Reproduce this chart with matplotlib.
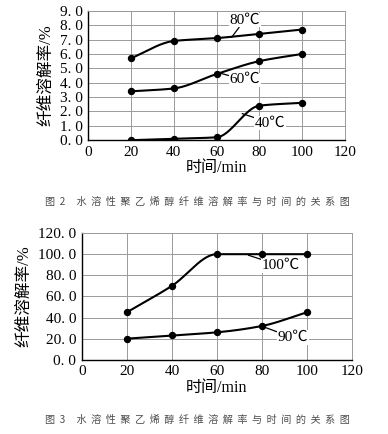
"""Dissolution rate of water-soluble PVA fibre vs time (fig 2 and fig 3)."""

import matplotlib
matplotlib.use("Agg")
import matplotlib.pyplot as plt
import numpy as np

plt.rcParams["font.family"] = ["Liberation Serif", "Noto Sans CJK SC"]

TIME = [20, 40, 60, 80, 100]

# fig 2
RATE_80 = [5.7, 6.9, 7.1, 7.4, 7.7]
RATE_60 = [3.4, 3.6, 4.6, 5.5, 6.0]
RATE_40 = [0.0, 0.1, 0.2, 2.4, 2.6]

# fig 3
RATE_100 = [45.0, 70.0, 100.0, 100.0, 100.0]
RATE_90 = [20.0, 23.0, 26.0, 32.0, 45.0]

X_TICKS = [0, 20, 40, 60, 80, 100, 120]
Y_TICKS_2 = [0, 1, 2, 3, 4, 5, 6, 7, 8, 9]
Y_TICKS_3 = [0, 20, 40, 60, 80, 100, 120]

CAPTION = "水溶性聚乙烯醇纤维溶解率与时间的关系图"


def caption(num):
    return f"图  {num}     " + "  ".join(CAPTION)


def smooth(x, y, n=200):
    """monotone cubic (pchip) through the points, only for drawing the curve"""
    x = np.asarray(x, float)
    y = np.asarray(y, float)
    h = np.diff(x)
    d = np.diff(y) / h
    k = len(x)
    m = np.zeros(k)
    for i in range(1, k - 1):
        if d[i - 1] * d[i] > 0:
            w1 = 2 * h[i] + h[i - 1]
            w2 = h[i] + 2 * h[i - 1]
            m[i] = (w1 + w2) / (w1 / d[i - 1] + w2 / d[i])
    m[0] = d[0]
    m[-1] = d[-1]
    xs = np.linspace(x[0], x[-1], n)
    idx = np.clip(np.searchsorted(x, xs) - 1, 0, k - 2)
    hh = h[idx]
    t = (xs - x[idx]) / hh
    h00 = 2 * t ** 3 - 3 * t ** 2 + 1
    h10 = t ** 3 - 2 * t ** 2 + t
    h01 = -2 * t ** 3 + 3 * t ** 2
    h11 = t ** 3 - t ** 2
    ys = h00 * y[idx] + h10 * hh * m[idx] + h01 * y[idx + 1] + h11 * hh * m[idx + 1]
    return xs, ys


def draw_series(ax, y):
    xs, ys = smooth(TIME, y)
    ax.plot(xs, ys, color="black", lw=1.5, zorder=3)
    ax.plot(TIME, y, "o", color="black", ms=4.3, zorder=4)


def style_axes(ax, yticks, fmt):
    ax.set_xlim(0, 120)
    ax.set_ylim(yticks[0], yticks[-1])
    ax.set_xticks(X_TICKS)
    ax.set_yticks(yticks)
    ax.set_yticklabels([fmt.format(v).replace(".", ". ") for v in yticks])
    ax.grid(True, color="#9a9a9a", lw=0.7)
    ax.set_axisbelow(True)
    ax.tick_params(length=0, labelsize=11, pad=4)
    for s in ["top", "right"]:
        ax.spines[s].set_color("#9a9a9a")
        ax.spines[s].set_linewidth(0.7)
    for s in ["left", "bottom"]:
        ax.spines[s].set_linewidth(1.0)
    ax.set_xlabel("时间/min", fontsize=11.5, labelpad=1)
    ax.set_ylabel("纤维溶解率/%", fontsize=12, labelpad=4)


def label(ax, text, xy, xytext):
    ax.annotate(text, xy=xy, xytext=xytext, fontsize=11, va="center",
                arrowprops=dict(arrowstyle="-", color="black", lw=0.9,
                                shrinkA=0, shrinkB=0),
                bbox=dict(boxstyle="square,pad=0.05", fc="white", ec="none"),
                zorder=5)


fig = plt.figure(figsize=(3.88, 4.34), dpi=100)

ax1 = fig.add_axes([0.227, 0.677, 0.662, 0.298])
draw_series(ax1, RATE_80)
draw_series(ax1, RATE_60)
draw_series(ax1, RATE_40)
style_axes(ax1, Y_TICKS_2, "{:.1f}")
label(ax1, "80℃", (67, 7.15), (66, 8.35))
label(ax1, "60℃", (62, 4.65), (66, 4.2))
label(ax1, "40℃", (72, 1.85), (78, 1.2))
fig.text(0.509, 0.535, caption(2), fontsize=7.3, color="#4d4d4d", ha="center",
         va="center", family=["Noto Sans CJK SC"])

ax2 = fig.add_axes([0.211, 0.171, 0.696, 0.292])
draw_series(ax2, RATE_100)
draw_series(ax2, RATE_90)
style_axes(ax2, Y_TICKS_3, "{:.1f}")
label(ax2, "100℃", (74, 99), (80, 89))
label(ax2, "90℃", (81, 31), (87, 21))
fig.text(0.509, 0.032, caption(3), fontsize=7.3, color="#4d4d4d", ha="center",
         va="center", family=["Noto Sans CJK SC"])

fig.savefig("out.png", dpi=100, facecolor="white")
